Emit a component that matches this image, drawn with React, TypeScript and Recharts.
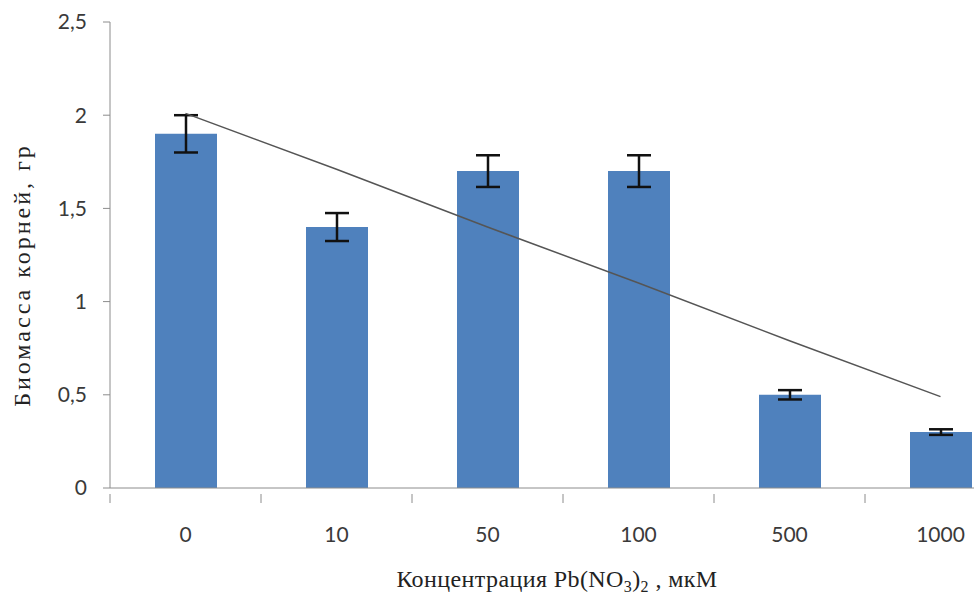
import React from "react";
import {
  ComposedChart,
  Bar,
  Line,
  XAxis,
  YAxis,
  ErrorBar,
  Label,
} from "recharts";

const concentrations = ["0", "10", "50", "100", "500", "1000"];
const biomass = [1.9, 1.4, 1.7, 1.7, 0.5, 0.3];
const biomassError = [0.1, 0.075, 0.085, 0.085, 0.025, 0.015];
const trendValues = [2.01, 1.71, 1.4, 1.1, 0.79, 0.49];
const yTicks = [0, 0.5, 1, 1.5, 2, 2.5];

const data = concentrations.map((c, i) => ({
  conc: c,
  biomass: biomass[i],
  err: biomassError[i],
  trend: trendValues[i],
}));

const tickFont = "Lato, 'Open Sans', sans-serif";
const titleFont = "'Liberation Serif', 'Times New Roman', serif";

// category label + tick mark at the left edge of each band
function XTick(props: any) {
  const { x, y, payload } = props;
  const half = payload && payload.offset ? payload.offset : 75.5;
  const left = x - half;
  return (
    <g>
      <line x1={left} y1={y - 2} x2={left} y2={y + 7} stroke="#8c8c8c" strokeWidth={1} />
      <text
        x={x}
        y={y + 46}
        textAnchor="middle"
        fontFamily={tickFont}
        fontSize={21}
        fill="#3a3a3a"
      >
        {payload.value}
      </text>
    </g>
  );
}

function XTitle(props: any) {
  const vb = props.viewBox || {};
  const cy = (vb.y || 488) + 99;
  return (
    <text
      x={557}
      y={cy}
      textAnchor="middle"
      fontFamily={titleFont}
      fontSize={24}
      letterSpacing={0.4}
      fill="#222"
    >
      Концентрация Pb(NO
      <tspan fontSize={16} dy={5}>3</tspan>
      <tspan dy={-5}>)</tspan>
      <tspan fontSize={16} dy={5}>2</tspan>
      <tspan dy={-5}> , мкМ</tspan>
    </text>
  );
}

function YTitle() {
  return (
    <text
      transform="translate(30, 275) rotate(-90)"
      textAnchor="middle"
      fontFamily={titleFont}
      fontSize={24}
      letterSpacing={3}
      fill="#222"
    >
      Биомасса корней, гр
    </text>
  );
}

export default function App() {
  return (
    <div
      style={{
        position: "absolute",
        left: 0,
        top: 0,
        width: 974,
        height: 594,
        overflow: "hidden",
        background: "#fff",
      }}
    >
      <ComposedChart
        width={1020}
        height={594}
        data={data}
        margin={{ top: 22, right: 4, bottom: 0, left: 0 }}
      >
        <XAxis
          dataKey="conc"
          height={106}
          axisLine={{ stroke: "#8c8c8c" }}
          tickLine={false}
          tick={<XTick />}
          interval={0}
        >
          <Label content={<XTitle />} />
        </XAxis>
        <YAxis
          width={110}
          domain={[0, 2.5]}
          ticks={yTicks}
          interval={0}
          axisLine={{ stroke: "#8c8c8c" }}
          tickLine={{ stroke: "#8c8c8c" }}
          tickSize={7}
          tickMargin={16}
          tickFormatter={(v: number) => String(v).replace(".", ",")}
          tick={{ fontFamily: tickFont, fontSize: 21, fill: "#3a3a3a" }}
        >
          <Label content={<YTitle />} />
        </YAxis>
        <Bar dataKey="biomass" fill="#4f81bd" barSize={62} isAnimationActive={false}>
          <ErrorBar dataKey="err" width={12} stroke="#111" strokeWidth={2.5} direction="y" />
        </Bar>
        <Line
          dataKey="trend"
          type="linear"
          stroke="#555"
          strokeWidth={1.5}
          dot={false}
          isAnimationActive={false}
        />
      </ComposedChart>
    </div>
  );
}
